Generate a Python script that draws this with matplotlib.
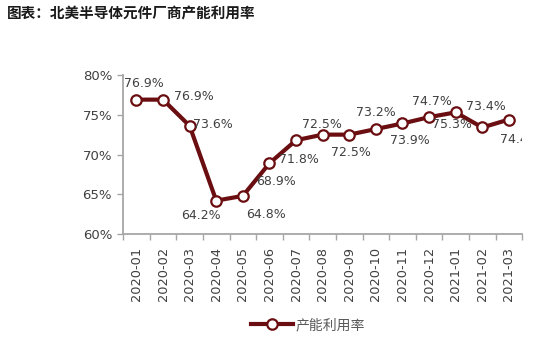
import matplotlib
matplotlib.use("Agg")
import matplotlib.pyplot as plt
from matplotlib.ticker import FuncFormatter
from matplotlib.lines import Line2D

plt.rcParams['font.family'] = ['DejaVu Sans', 'Noto Sans CJK SC']

# ── 数据 ────────────────────────────────────────────
months = ["2020-01", "2020-02", "2020-03", "2020-04", "2020-05", "2020-06",
          "2020-07", "2020-08", "2020-09", "2020-10", "2020-11", "2020-12",
          "2021-01", "2021-02", "2021-03"]
utilization = [76.9, 76.9, 73.6, 64.2, 64.8, 68.9, 71.8, 72.5, 72.5,
               73.2, 73.9, 74.7, 75.3, 73.4, 74.4]
# label offsets (pixels) from each point
label_dx = [7, 31, 23, -15, 23, 7, 3, -1, 2, 0, 7, 3, -4, 4, 11]
label_dy = [16, 3, 1, -15, -19, -18, -19, 10, -18, 17, -17, 16, -12, 21, -20]

line_color = "#6b0e11"
text_color = "#404040"
spine_color = "#a6a6a6"

fig = plt.figure(figsize=(5.4, 3.64), dpi=100, facecolor="white")
ax = fig.add_axes([0.228, 0.357, 0.739, 0.437])

x = list(range(len(months)))
ax.plot(x, utilization, color=line_color, linewidth=3.0, marker="o",
        markersize=7.5, markerfacecolor="white", markeredgecolor=line_color,
        markeredgewidth=1.6, zorder=3)

for i, v in enumerate(utilization):
    ax.annotate(f"{v:.1f}%", (i, v), xytext=(label_dx[i], label_dy[i]),
                textcoords="offset pixels", ha="center", va="center",
                fontsize=9, color=text_color, clip_on=True, zorder=4)

ax.set_xlim(-0.5, len(months) - 0.5)
ax.set_ylim(60, 80)
ax.set_yticks([60, 65, 70, 75, 80])
ax.yaxis.set_major_formatter(FuncFormatter(lambda v, p: f"{v:.0f}%"))

ax.set_xticks(x)
ax.set_xticklabels(months, rotation=90, fontsize=9.3, color=text_color)
ax.set_xticks([i - 0.5 for i in range(len(months) + 1)], minor=True)
ax.tick_params(axis="x", which="major", length=0, pad=9)
ax.tick_params(axis="x", which="minor", length=4, width=1, color=spine_color,
               direction="out")
ax.tick_params(axis="y", length=4, width=1, color=spine_color, labelsize=9.5,
               labelcolor=text_color, pad=4)

for side in ["top", "right"]:
    ax.spines[side].set_visible(False)
for side in ["left", "bottom"]:
    ax.spines[side].set_color(spine_color)
    ax.spines[side].set_linewidth(1.3)

# 图例
handle = Line2D([], [], color=line_color, linewidth=3.0, marker="o",
                markersize=7.5, markerfacecolor="white",
                markeredgecolor=line_color, markeredgewidth=1.6)
fig.legend([handle], ["产能利用率"], loc="center", bbox_to_anchor=(0.57, 0.107),
           frameon=False, handlelength=3.0, handletextpad=0.2,
           prop={"family": ["Noto Sans CJK SC"], "size": 10}, labelcolor="#595959")

fig.text(0.013, 0.962, "图表：北美半导体元件厂商产能利用率", fontsize=10.5,
         fontweight="bold", color="#1a1a1a", va="center", ha="left",
         family=["Noto Sans CJK SC", "DejaVu Sans"])

fig.savefig("out.png", dpi=100, facecolor="white")
